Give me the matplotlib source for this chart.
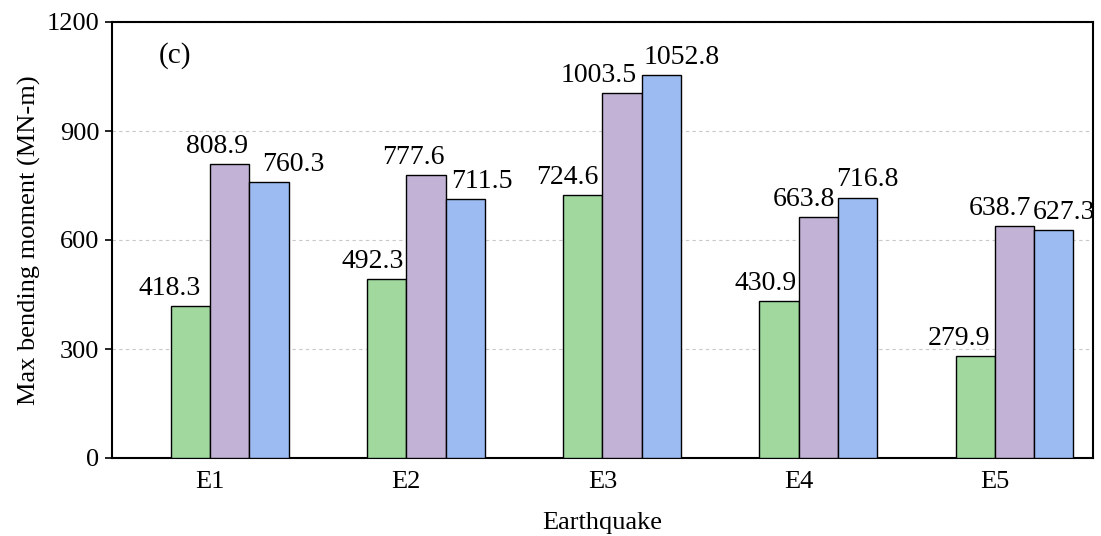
import numpy as np
import matplotlib
matplotlib.use('Agg')
import matplotlib.pyplot as plt

# data
quakes = ['E1', 'E2', 'E3', 'E4', 'E5']
series_a = [418.3, 492.3, 724.6, 430.9, 279.9]
series_b = [808.9, 777.6, 1003.5, 663.8, 638.7]
series_c = [760.3, 711.5, 1052.8, 716.8, 627.3]
y_ticks = [0, 300, 600, 900, 1200]

colors = ['#a0d89e', '#c2b2d6', '#9cbbf2']

# the value labels were placed by hand in the original, x shift from the tick (data units)
label_dx = [
    [-0.204, -0.173, -0.178, -0.168, -0.183],
    [0.036, 0.036, -0.020, 0.025, 0.025],
    [0.423, 0.387, 0.403, 0.352, 0.352],
]

plt.rcParams['font.family'] = ['Liberation Serif', 'DejaVu Serif']
plt.rcParams['font.size'] = 19

fig = plt.figure(figsize=(11.01, 5.36), dpi=100)
ax = fig.add_axes([112/1101, 1 - 458/536, 981/1101, 436/536])

x = np.arange(len(quakes))
w = 0.2
all_series = [series_a, series_b, series_c]

for k, vals in enumerate(all_series):
    # bars start one width left of the tick, so the 2nd bar begins on it
    pos = x + (k - 0.5) * w
    ax.bar(pos, vals, width=w, color=colors[k], edgecolor='black', linewidth=1, zorder=3)
    for i, v in enumerate(vals):
        ax.annotate('%.1f' % v, (x[i] + label_dx[k][i], v), xytext=(0, 8),
                    textcoords='offset points', ha='center', va='baseline', fontsize=20, zorder=4)

ax.set_xlim(-0.5, len(quakes) - 0.5)
ax.set_ylim(0, 1200)
ax.set_yticks(y_ticks)
ax.set_xticks(x)
ax.set_xticklabels(quakes)

ax.yaxis.grid(True, linestyle=(0, (3, 3)), color='#c8c8c8', linewidth=0.8, zorder=0)
ax.set_axisbelow(True)

for s in ax.spines.values():
    s.set_linewidth(1.5)

ax.tick_params(axis='y', direction='out', length=5, width=1.2, labelsize=19, pad=4)
ax.tick_params(axis='x', direction='in', length=4, width=1.2, labelsize=19, pad=9)

ax.set_xlabel('Earthquake', fontsize=19, labelpad=14)
ax.set_ylabel('Max bending moment (MN-m)', fontsize=19, labelpad=4)

ax.text(0.064, 0.924, '(c)', transform=ax.transAxes, ha='center', va='center', fontsize=21)

fig.savefig('out.png', dpi=100)
